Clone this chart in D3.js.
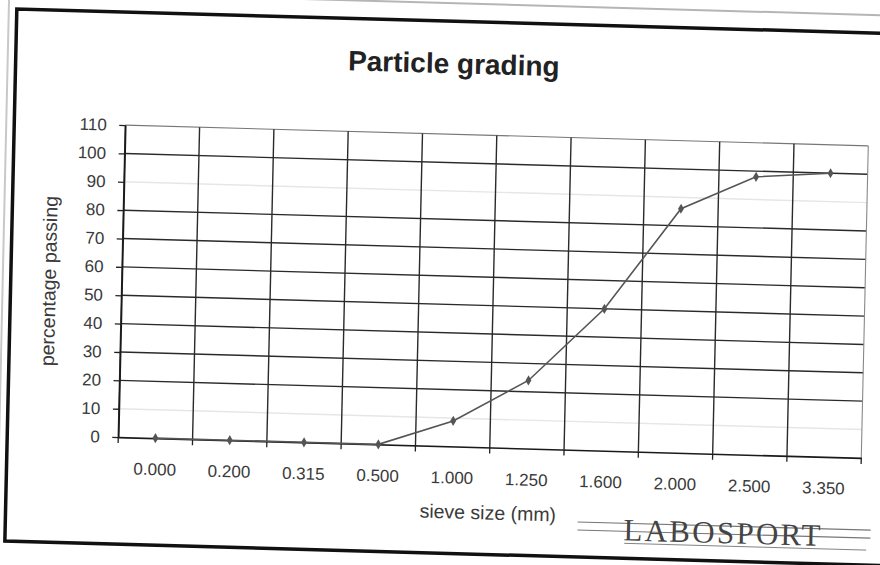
<!DOCTYPE html>
<html>
<head>
<meta charset="utf-8">
<script src="https://cdn.jsdelivr.net/npm/d3@7"></script>
<style>
  html, body { margin: 0; padding: 0; background: #fff; }
  svg { display: block; }
</style>
</head>
<body>
<svg id="chart" width="880" height="565"></svg>
<script>
// ---- data ----
const categories = ["0.000", "0.200", "0.315", "0.500", "1.000", "1.250", "1.600", "2.000", "2.500", "3.350"];
const passing = [0, 0, 0, 0, 9, 24, 50, 86, 98, 100];
const yTicks = [0, 10, 20, 30, 40, 50, 60, 70, 80, 90, 100, 110];
const chartTitle = "Particle grading";
const xTitle = "sieve size (mm)";
const yTitle = "percentage passing";
const logoText = "LABOSPORT";

// ---- layout ----
const W = 880, H = 565;
const plot = { left: 122, right: 865, top: 134, bottom: 446 };
const font = "'Liberation Sans', Arial, Helvetica, sans-serif";

const svg = d3.select("#chart");
svg.append("rect").attr("width", W).attr("height", H).attr("fill", "#fff");

// scanned page is slightly skewed
const g = svg.append("g")
  .attr("transform", "translate(440,280) matrix(1,0.028,-0.0225,1,0,0) translate(-440,-280)");

// faint page edges
g.append("line").attr("x1", 250).attr("x2", 900).attr("y1", 3).attr("y2", 3)
  .attr("stroke", "#b5b5b5").attr("stroke-width", 2);
g.append("line").attr("x1", 3).attr("x2", 3).attr("y1", 0).attr("y2", 580)
  .attr("stroke", "#c8c8c8").attr("stroke-width", 2);

// frame
g.append("path")
  .attr("d", "M 920 21 L 11 21 L 11 553 L 920 553")
  .attr("fill", "none").attr("stroke", "#111").attr("stroke-width", 3.5);

const x = d3.scaleBand().domain(categories).range([plot.left, plot.right]).padding(0);
const y = d3.scaleLinear().domain([0, 110]).range([plot.bottom, plot.top]);

// horizontal gridlines
const faded = new Set([10, 90]);
g.append("g").selectAll("line").data(yTicks.filter(d => d > 0)).join("line")
  .attr("x1", plot.left).attr("x2", plot.right)
  .attr("y1", d => y(d)).attr("y2", d => y(d))
  .attr("stroke", d => faded.has(d) ? "#e6e6e6" : (d === 110 ? "#777" : "#2a2a2a"))
  .attr("stroke-width", d => d === 110 ? 1.1 : 1.4);

// vertical gridlines at category boundaries
const bounds = categories.map(c => x(c)).concat([plot.right]);
g.append("g").selectAll("line").data(bounds).join("line")
  .attr("x1", d => d).attr("x2", d => d)
  .attr("y1", plot.top).attr("y2", plot.bottom)
  .attr("stroke", (d, i) => i === bounds.length - 1 ? "#888" : "#2a2a2a")
  .attr("stroke-width", (d, i) => i === bounds.length - 1 ? 1.1 : 1.4);

// tick marks below x axis at boundaries
g.append("g").selectAll("line").data(bounds).join("line")
  .attr("x1", d => d).attr("x2", d => d)
  .attr("y1", plot.bottom).attr("y2", plot.bottom + 6)
  .attr("stroke", "#222").attr("stroke-width", 1.3);

// x axis (labels)
const xAxis = g.append("g")
  .attr("transform", `translate(0,${plot.bottom})`)
  .call(d3.axisBottom(x).tickSize(0).tickSizeOuter(0).tickPadding(25));
xAxis.select(".domain").attr("stroke", "#1a1a1a").attr("stroke-width", 1.6);
xAxis.selectAll("text").attr("font-family", font).attr("font-size", 17).attr("fill", "#3a3a3a");

// y axis
const yAxis = g.append("g")
  .attr("transform", `translate(${plot.left},0)`)
  .call(d3.axisLeft(y).tickValues(yTicks).tickSize(6).tickSizeOuter(0).tickPadding(12.5));
yAxis.select(".domain").attr("stroke", "#1a1a1a").attr("stroke-width", 1.6);
yAxis.selectAll(".tick line").attr("stroke", "#222").attr("stroke-width", 1.3);
yAxis.selectAll("text").attr("font-family", font).attr("font-size", 17).attr("fill", "#3a3a3a");

// data line
const cx = c => x(c) + x.bandwidth() / 2;
const pts = categories.map((c, i) => [cx(c), y(passing[i])]);
g.append("path")
  .attr("d", d3.line()(pts))
  .attr("fill", "none").attr("stroke", "#555").attr("stroke-width", 1.6);

// markers
g.append("g").selectAll("path").data(pts).join("path")
  .attr("transform", d => `translate(${d[0]},${d[1]})`)
  .attr("d", d3.symbol().type(d3.symbolDiamond).size(30))
  .attr("fill", "#555");

// titles
g.append("text")
  .attr("x", 449).attr("y", 73)
  .attr("text-anchor", "middle")
  .attr("font-family", font).attr("font-weight", "bold").attr("font-size", 28)
  .attr("fill", "#222")
  .text(chartTitle);

g.append("text")
  .attr("x", 493).attr("y", 518)
  .attr("text-anchor", "middle")
  .attr("font-family", font).attr("font-size", 19.5)
  .attr("fill", "#3a3a3a")
  .text(xTitle);

g.append("text")
  .attr("transform", "translate(56,292) rotate(-90)")
  .attr("text-anchor", "middle")
  .attr("font-family", font).attr("font-size", 19.5)
  .attr("fill", "#3a3a3a")
  .text(yTitle);

// logo
const logo = g.append("g");
[[583, 876, 518, 1.2], [583, 876, 526, 1.2], [630, 872, 538, 0.9]].forEach(([a, b, yy, w]) => {
  logo.append("line").attr("x1", a).attr("x2", b).attr("y1", yy).attr("y2", yy)
    .attr("stroke", "#777").attr("stroke-width", w);
});
logo.append("text")
  .attr("x", 629).attr("y", 535)
  .attr("font-family", "'Liberation Serif', 'Times New Roman', serif")
  .attr("font-size", 31)
  .attr("textLength", 197).attr("lengthAdjust", "spacing")
  .attr("fill", "#444")
  .text(logoText);
</script>
</body>
</html>
